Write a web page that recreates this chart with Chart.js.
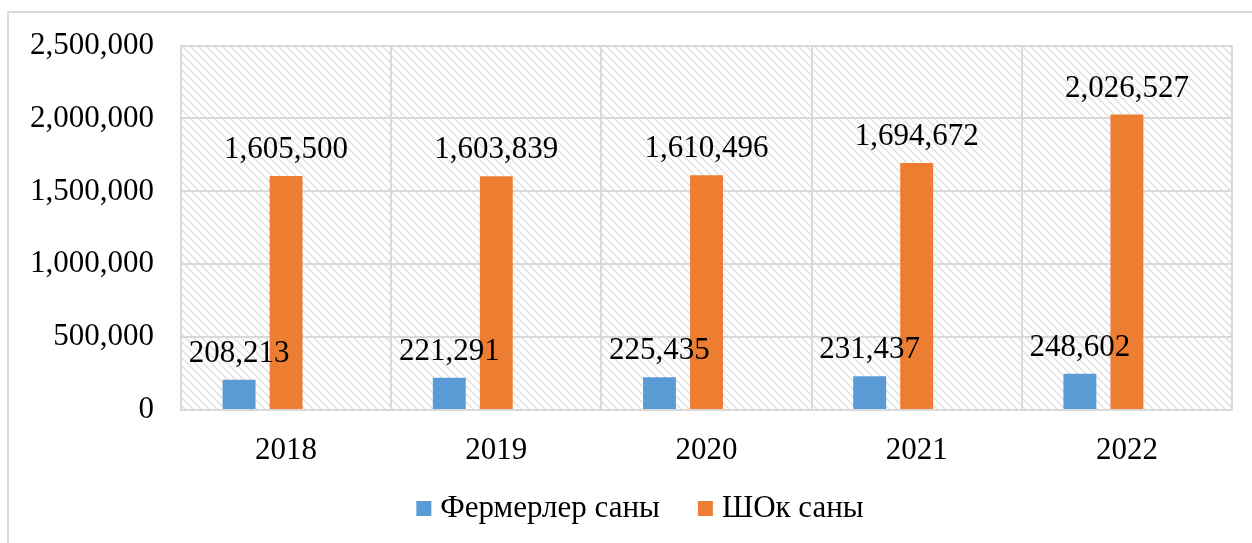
<!DOCTYPE html>
<html>
<head>
<meta charset="utf-8">
<script src="https://cdn.jsdelivr.net/npm/chart.js@4/dist/chart.umd.min.js"></script>
<style>
  body { margin: 0; background: #fff; }
  #frame {
    position: absolute; left: 7px; top: 11px;
    width: 1300px; height: 600px;
    border: 2px solid #d9d9d9;
  }
  #myChart { position: absolute; left: 0; top: 0; }
</style>
</head>
<body>
<div id="frame"></div>
<canvas id="myChart" width="1252" height="543"></canvas>
<script>
const years = ['2018', '2019', '2020', '2021', '2022'];
const farmers = [208213, 221291, 225435, 231437, 248602];
const shok = [1605500, 1603839, 1610496, 1694672, 2026527];
const seriesNames = ['Фермерлер саны', 'ШОк саны'];
const seriesColors = ['#5b9bd5', '#ed7d31'];
const yTicks = [0, 500000, 1000000, 1500000, 2000000, 2500000];

const font = '"Liberation Serif", "Times New Roman", serif';
const fmt = v => v.toLocaleString('en-US');

// diagonal hatch for the plot area
const tile = document.createElement('canvas');
tile.width = 8;
tile.height = 8;
const tctx = tile.getContext('2d');
tctx.strokeStyle = '#e3e3e3';
tctx.lineWidth = 1.6;
[-8, 0, 8].forEach(o => {
    tctx.beginPath();
    tctx.moveTo(o, 0);
    tctx.lineTo(o + 8, 8);
    tctx.stroke();
});

const hatch = {
    id: 'hatch',
    beforeDraw(chart) {
        const a = chart.chartArea;
        const c = chart.ctx;
        c.save();
        c.fillStyle = c.createPattern(tile, 'repeat');
        c.fillRect(a.left, a.top, a.right - a.left, a.bottom - a.top);
        c.restore();
    }
};

const valueLabels = {
    id: 'valueLabels',
    afterDatasetsDraw(chart) {
        const c = chart.ctx;
        c.save();
        c.font = '31px ' + font;
        c.fillStyle = '#000';
        c.textAlign = 'center';
        c.textBaseline = 'alphabetic';
        chart.data.datasets.forEach((ds, i) => {
            if (!ds.label) return;
            chart.getDatasetMeta(i).data.forEach((bar, j) => {
                c.fillText(fmt(ds.data[j]), bar.x, bar.y - 18);
            });
        });
        c.restore();
    }
};

// legend drawn by hand so it sits where the original has it
const bottomLegend = {
    id: 'bottomLegend',
    afterDraw(chart) {
        const c = chart.ctx;
        c.save();
        c.font = '31px ' + font;
        c.textBaseline = 'middle';
        c.textAlign = 'left';
        const box = 15, gap = 9, between = 38;
        const widths = seriesNames.map(n => c.measureText(n).width);
        const total = widths.reduce((s, w) => s + box + gap + w, 0) + between;
        let x = 640 - total / 2;
        const y = 508;
        seriesNames.forEach((n, i) => {
            c.fillStyle = seriesColors[i];
            c.fillRect(x, y - 7, box, box);
            c.fillStyle = '#000';
            c.fillText(n, x + box + gap, y + 1);
            x += box + gap + widths[i] + between;
        });
        c.restore();
    }
};

const ctx = document.getElementById('myChart').getContext('2d');
let myChart = new Chart(ctx, {
    type: 'bar',
    data: {
        labels: years,
        datasets: [
            { label: seriesNames[0], data: farmers, backgroundColor: seriesColors[0] },
            { label: seriesNames[1], data: shok, backgroundColor: seriesColors[1] },
            // empty third slot, as in the original spreadsheet chart
            { label: '', data: years.map(() => null), backgroundColor: 'rgba(0,0,0,0)' }
        ]
    },
    options: {
        responsive: false,
        animation: false,
        devicePixelRatio: 1,
        datasets: {
            bar: { categoryPercentage: 0.671, barPercentage: 0.70 }
        },
        layout: { padding: { left: 27, right: 20, top: 42, bottom: 73 } },
        scales: {
            x: {
                afterFit: s => { s.height = 60; },
                grid: { color: '#d9d9d9', lineWidth: 2, drawTicks: false },
                border: { color: '#d9d9d9', width: 2 },
                ticks: { color: '#000', font: { family: font, size: 31 }, padding: 22 }
            },
            y: {
                min: 0,
                max: 2500000,
                afterFit: s => { s.width = 154; },
                afterBuildTicks: scale => { scale.ticks = yTicks.map(v => ({ value: v })); },
                grid: { color: '#d9d9d9', lineWidth: 2, drawTicks: false },
                border: { display: false },
                ticks: { color: '#000', font: { family: font, size: 31 }, padding: 27, callback: v => fmt(v) }
            }
        },
        plugins: {
            legend: { display: false },
            tooltip: { enabled: false }
        }
    },
    plugins: [hatch, valueLabels, bottomLegend]
});
</script>
</body>
</html>
